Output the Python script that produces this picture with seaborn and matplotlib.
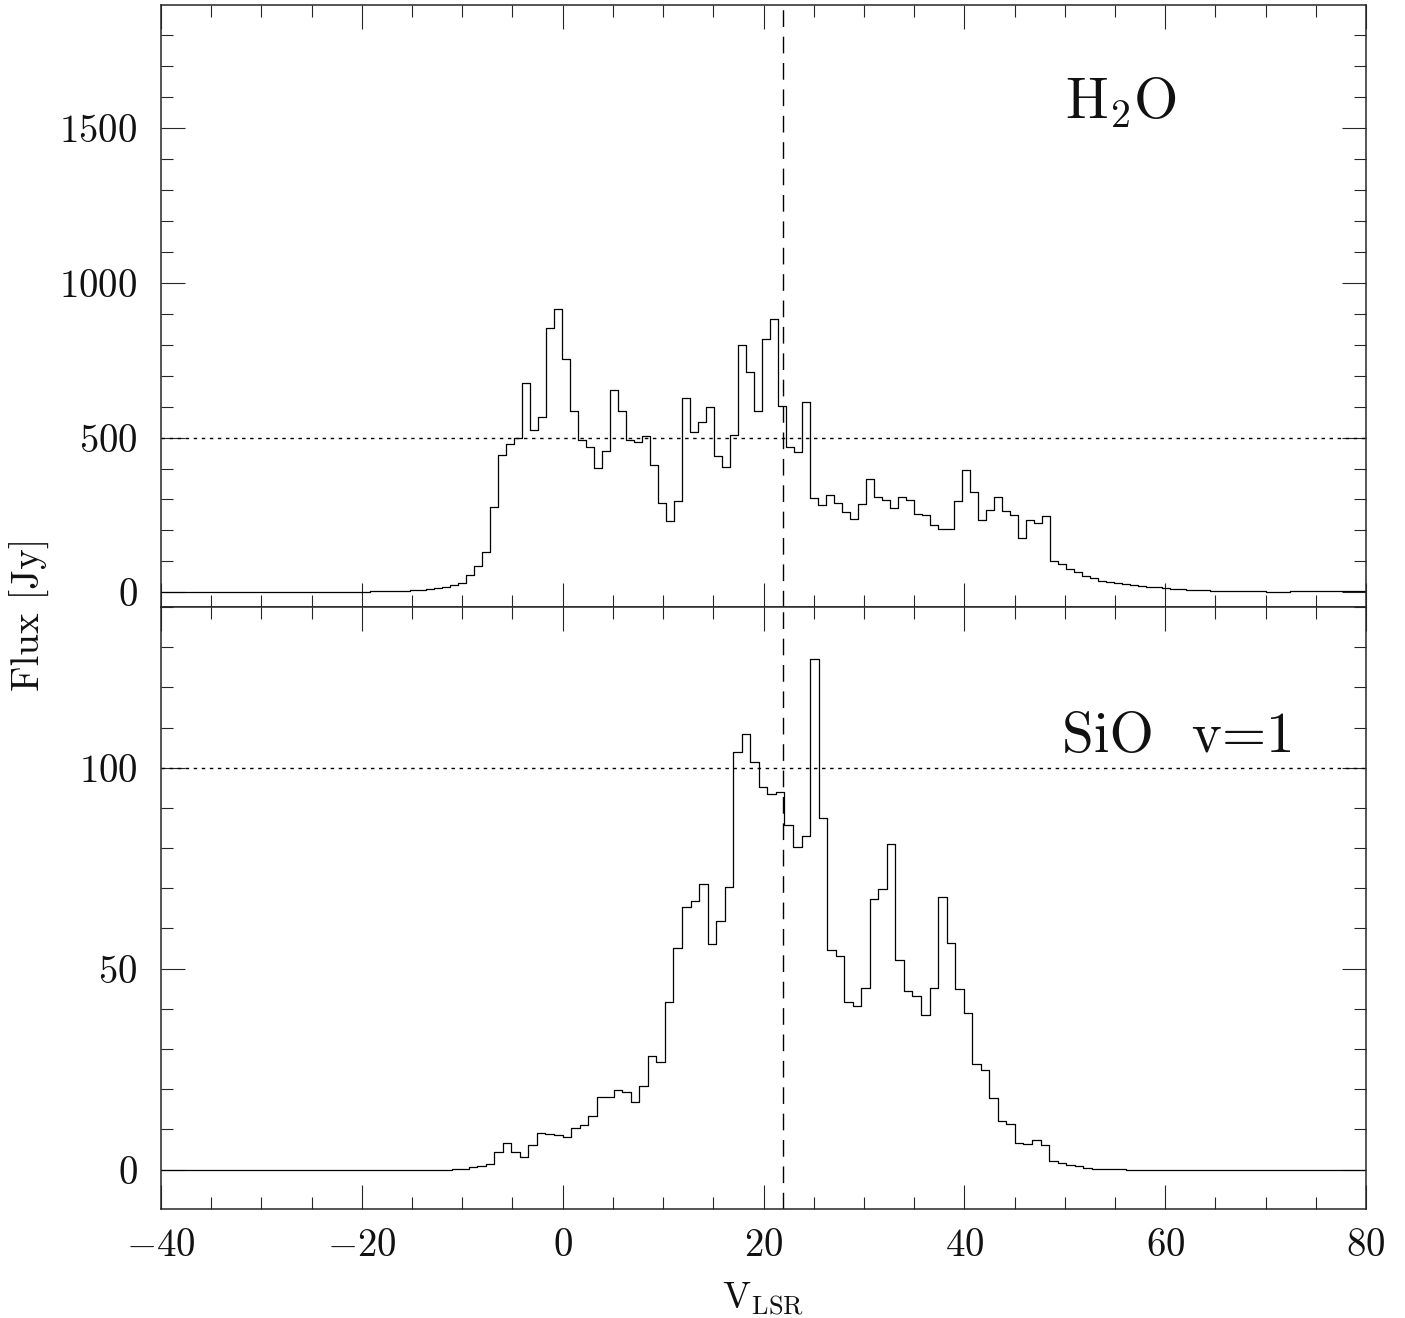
"""
Espectros H2O e SiO v=1 - dois paineis empilhados, estilo PGPLOT
"""

import numpy as np
import matplotlib
matplotlib.use("Agg")
import matplotlib.pyplot as plt
from matplotlib.ticker import MultipleLocator
import seaborn as sns

# ===============================================
# DADOS
# ===============================================

# H2O: borda esquerda do primeiro canal e largura do canal (km/s)
H2O_V0 = -40.71
H2O_DV = 0.797
h2o_flux = [
    1, 1, 1, 1, 1, 1, 1, 1, 1, 1, 1, 1, 1, 1, 1, 1, 1,
    2, 2, 2, 2, 2, 2, 2, 2, 2, 2,
    3, 3, 3, 5, 5, 8, 8, 12, 14, 18, 22, 31, 55, 85, 130,
    275, 445, 480, 499, 676, 523, 567, 855, 916, 754,
    585, 492, 470, 401, 456, 655, 587, 492, 485, 505,
    412, 287, 229, 294, 628, 519, 551, 599, 441, 405,
    510, 798, 712, 585,
    819, 884, 601, 470, 452, 615, 304, 283, 315, 289,
    258, 237, 285, 367, 309, 298, 271, 309, 298, 253,
    249, 219, 206, 203, 296, 396, 324, 235, 266, 309,
    262, 249, 174, 235, 223, 246, 102, 90, 75,
    66, 54, 46, 37, 32, 29, 26, 23, 21, 18,
    16, 13, 11, 9, 7, 6, 6, 5,
    4, 4, 4, 4, 4, 4, 2, 2, 2, 4, 4,
    3, 3, 3, 3, 3, 3, 3, 3,
]

# SiO v=1
SIO_V0 = -40.82
SIO_DV = 0.85
sio_flux = [
    0, 0, 0, 0, 0, 0, 0, 0, 0, 0, 0, 0, 0, 0, 0, 0, 0, 0,
    0, 0, 0, 0, 0, 0, 0, 0, 0, 0, 0, 0, 0, 0, 0, 0, 0,
    0.2, 0.2, 0.6, 0.9, 1.4,
    4.3, 6.6, 4.3, 3.1, 6.1, 9.0, 8.8, 8.5, 8.2, 10.4,
    11.0, 13.3, 18.1, 18.1, 19.7, 19.2, 16.8, 20.8, 28.3, 26.8,
    41.7, 55.1, 65.3, 66.8, 71.1, 56.1, 61.9, 70.4, 104.0, 108.5,
    101.5, 95.3, 93.5, 94.0, 85.7, 80.2, 83.1,
    127.1,
    87.6, 54.6, 53.1, 41.8, 40.7, 45.3, 67.3, 69.8, 80.9, 52.2,
    44.4, 43.3, 38.5, 45.3, 67.9, 56.4, 45.0, 38.9, 26.4, 24.7,
    17.8, 12.0, 11.4, 6.7, 6.4, 7.3, 6.0, 2.1, 1.6, 1.2,
    0.8, 0.3, 0.25, 0.25, 0.1, 0.1,
    0, 0, 0, 0, 0, 0, 0, 0, 0, 0, 0, 0, 0, 0, 0,
    0, 0, 0, 0, 0, 0, 0, 0, 0, 0, 0, 0, 0, 0,
]

V_SYS = 21.9           # linha tracejada vertical
H2O_REF = 500          # linha pontilhada painel superior
SIO_REF = 100          # linha pontilhada painel inferior

# centros dos canais
h2o_v = H2O_V0 + H2O_DV * (np.arange(len(h2o_flux)) + 0.5)
sio_v = SIO_V0 + SIO_DV * (np.arange(len(sio_flux)) + 0.5)

# ===============================================
# ESTILO
# ===============================================

sns.set_style("ticks")
plt.rcParams["font.family"] = ["cmr10", "DejaVu Serif"]
plt.rcParams["mathtext.fontset"] = "cm"
plt.rcParams["axes.formatter.use_mathtext"] = True
plt.rcParams["axes.linewidth"] = 1.1
plt.rcParams["text.color"] = "#111111"

fig = plt.figure(figsize=(14.05, 13.18), dpi=100)
ax_top = fig.add_axes([0.1146, 0.5395, 0.8577, 0.4568])
ax_bot = fig.add_axes([0.1146, 0.0827, 0.8577, 0.4568])

# ========== PAINEL SUPERIOR: H2O ==========
sns.lineplot(x=h2o_v, y=h2o_flux, ax=ax_top, estimator=None,
             drawstyle="steps-mid", color="black", linewidth=0.9)
ax_top.axhline(H2O_REF, color="black", linewidth=1.0, linestyle=(0, (2.5, 3.3)))
ax_top.set_ylim(-47.5, 1899)
ax_top.yaxis.set_major_locator(MultipleLocator(500))
ax_top.yaxis.set_minor_locator(MultipleLocator(100))
ax_top.text(0.750, 0.812, r"$\mathrm{H_2O}$", transform=ax_top.transAxes,
            fontsize=41, ha="left", va="baseline")

# ========== PAINEL INFERIOR: SiO ==========
sns.lineplot(x=sio_v, y=sio_flux, ax=ax_bot, estimator=None,
             drawstyle="steps-mid", color="black", linewidth=0.9)
ax_bot.axhline(SIO_REF, color="black", linewidth=1.0, linestyle=(0, (2.5, 3.3)))
ax_bot.set_ylim(-9.8, 140)
ax_bot.yaxis.set_major_locator(MultipleLocator(50))
ax_bot.yaxis.set_minor_locator(MultipleLocator(10))
ax_bot.text(0.748, 0.759, "SiO  v=1", transform=ax_bot.transAxes,
            fontsize=41, ha="left", va="baseline")

for ax in (ax_top, ax_bot):
    ax.axvline(V_SYS, color="black", linewidth=1.0, linestyle=(0, (12, 7)))
    ax.set_xlim(-40, 80)
    ax.xaxis.set_major_locator(MultipleLocator(20))
    ax.xaxis.set_minor_locator(MultipleLocator(5))
    ax.tick_params(which="both", direction="in", top=True, right=True,
                   width=0.8, labelsize=28, labelcolor="#111111")
    ax.tick_params(which="major", length=17)
    ax.tick_params(which="minor", length=8.6)
    ax.tick_params(axis="y", pad=17)
    ax.tick_params(axis="x", pad=14)
    ax.set_xlabel("")
    ax.set_ylabel("")

ax_top.tick_params(labelbottom=False)

fig.text(0.021, 0.534, "Flux [Jy]", rotation=90, fontsize=28,
         ha="center", va="center")
fig.text(0.543, 0.014, r"$\mathrm{V_{LSR}}$", fontsize=27,
         ha="center", va="center")

plt.savefig("out.png", dpi=100)
plt.close()
